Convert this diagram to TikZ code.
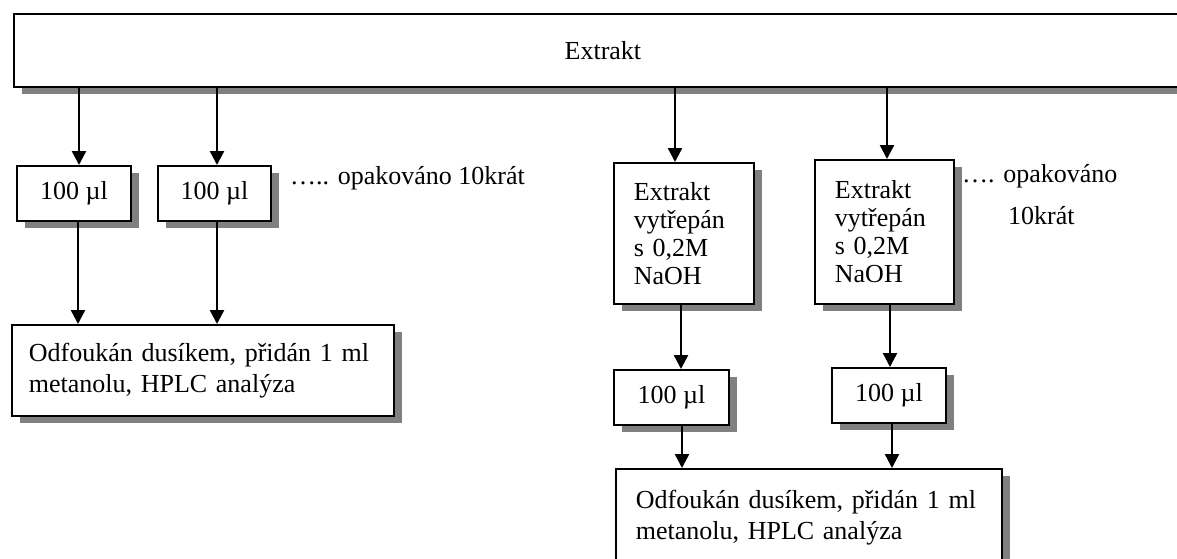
\documentclass[tikz,border=0pt]{standalone}
\usepackage{fontspec}
\setmainfont{Liberation Serif}
\usetikzlibrary{arrows.meta,shadows}
\begin{document}
\begin{tikzpicture}[x=1pt,y=-1pt,
  box/.style={draw=black, line width=1.8pt, fill=white, rectangle, anchor=north west,
    inner sep=0pt, font=\fontsize{26}{28}\selectfont,
    drop shadow={shadow xshift=8pt, shadow yshift=-7pt, fill=gray, opacity=1}},
  wide/.style={font=\fontsize{26}{31}\selectfont, align=left},
  arr/.style={line width=2.4pt, -{Triangle[width=14pt,length=14pt]}},
  note/.style={anchor=base west, inner sep=0pt, font=\fontsize{26}{28}\selectfont}]
\useasboundingbox (0,0) rectangle (1177,558);

% boxes
\node[box, minimum width=1178pt, minimum height=73pt] (top) at (13,13) {Extrakt};
\node[box, minimum width=114pt, minimum height=55pt] (b1) at (16,165) {100 µl};
\node[box, minimum width=113pt, minimum height=55pt] (b2) at (157,165) {100 µl};
\node[box, minimum width=140pt, minimum height=141pt, text width=100pt, inner xsep=20pt, align=left] (b3) at (613,162) {Extrakt\\vytřepán\\s 0,2M\\NaOH};
\node[box, minimum width=139pt, minimum height=144pt, text width=99pt, inner xsep=20pt, align=left] (b4) at (814,159) {Extrakt\\vytřepán\\s 0,2M\\NaOH};
\node[box, minimum width=115pt, minimum height=55pt] (s3) at (613,369) {100 µl};
\node[box, minimum width=114pt, minimum height=55pt] (s4) at (831,367) {100 µl};
\node[box, wide, minimum width=382pt, minimum height=91pt, text width=356pt, inner xsep=13pt] (bl) at (11,324) {\hspace*{4pt}Odfoukán dusíkem, přidán 1 ml\\\hspace*{4pt}metanolu, HPLC analýza};
\node[box, wide, minimum width=386pt, minimum height=97pt, text width=358pt, inner xsep=14pt] (br) at (615,468) {\hspace*{6pt}Odfoukán dusíkem, přidán 1 ml\\\hspace*{6pt}metanolu, HPLC analýza};

% notes
\node[note] (n1) at (290,184) {….. opakováno 10krát};
\node[note] (n2) at (962,182) {…. opakováno};
\node[note] (n3) at (1008,224) {10krát};

% connector x positions
\coordinate (x1) at (79,0);
\coordinate (x2) at (217,0);
\coordinate (x3) at (675,0);
\coordinate (x4) at (887,0);
\coordinate (x5) at (78,0);
\coordinate (x6) at (217,0);
\coordinate (x7) at (681,0);
\coordinate (x8) at (890,0);
\coordinate (x9) at (682,0);
\coordinate (x10) at (892,0);

\draw[arr] (x1 |- top.south) -- (x1 |- b1.north);
\draw[arr] (x2 |- top.south) -- (x2 |- b2.north);
\draw[arr] (x3 |- top.south) -- (x3 |- b3.north);
\draw[arr] (x4 |- top.south) -- (x4 |- b4.north);
\draw[arr] (x5 |- b1.south) -- (x5 |- bl.north);
\draw[arr] (x6 |- b2.south) -- (x6 |- bl.north);
\draw[arr] (x7 |- b3.south) -- (x7 |- s3.north);
\draw[arr] (x8 |- b4.south) -- (x8 |- s4.north);
\draw[arr] (x9 |- s3.south) -- (x9 |- br.north);
\draw[arr] (x10 |- s4.south) -- (x10 |- br.north);
\end{tikzpicture}
\end{document}
